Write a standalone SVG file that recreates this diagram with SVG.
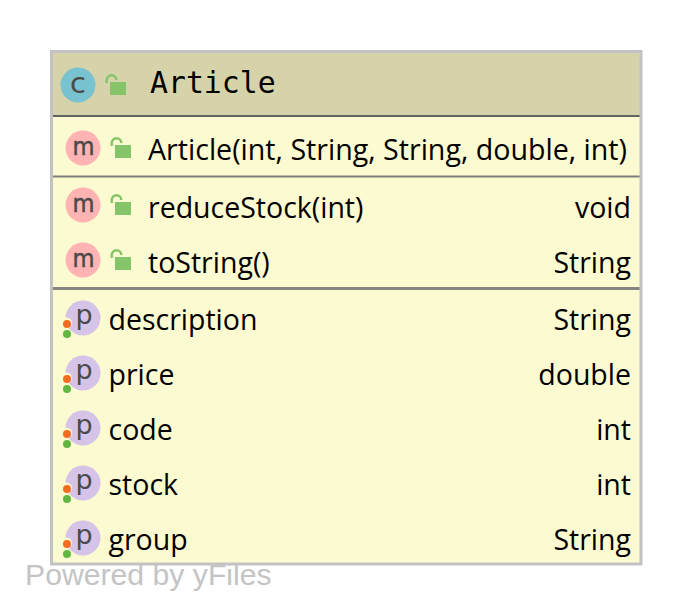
<svg xmlns="http://www.w3.org/2000/svg" width="692" height="615" viewBox="0 0 692 615">
<style>
text{font-family:"Open Sans","Noto Sans","Liberation Sans",sans-serif;font-size:28.500px;fill:#000}
.r{text-anchor:end}
.t{font-family:"DejaVu Sans Mono","Liberation Mono",monospace;font-size:29.800px}
.ic{font-family:"DejaVu Sans",sans-serif;font-size:27px;fill:#4a4a4a;text-anchor:middle}
.im{font-family:"DejaVu Sans",sans-serif;font-size:25px;fill:#4a4a4a;text-anchor:middle;stroke:#4a4a4a;stroke-width:.5px}
.ic2{font-family:"DejaVu Sans",sans-serif;font-size:29px;fill:#4a4a4a;text-anchor:middle}
.wm{font-family:"Liberation Sans",Arial,sans-serif;font-size:30.200px;fill:#c4c4c4}
.m{fill:#ffb3b3}.p{fill:#d5c3e8}.c{fill:#79c2cf}
</style>
<defs>
<g id="lock"><path d="M-3.300 -3V-6a4.800 4.800 0 0 1 9.600 0" fill="none" stroke="#85c468" stroke-width="2.400"/><rect x="0" y="-4" width="16" height="13" fill="#85c468"/></g>
<g id="dots"><circle cx="-0.500" cy="-11" r="5.500" fill="#fcfad1"/><circle cx="0" cy="0" r="4" fill="#f26d21" transform="translate(0 -10)"/><circle cx="0" cy="0" r="4" fill="#62b543"/></g>
</defs>
<g id="article-node">
<rect x="52" y="52" width="589" height="512" fill="#fcfad1"/>
<rect x="52" y="52" width="589" height="64" fill="#d6d3aa"/>
<rect x="52" y="115" width="589" height="2" fill="#626262"/>
<rect x="52" y="175.500" width="589" height="2" fill="#7f7f78"/>
<rect x="52" y="287" width="589" height="3" fill="#868680"/>
<rect x="51.500" y="51.500" width="589.500" height="512.500" fill="none" stroke="#c2c2c2" stroke-width="3"/>
</g>
<g id="title">
<circle cx="78" cy="85" r="17.500" class="c"/><text x="78" y="92.500" class="ic2">c</text>
<use href="#lock" x="110" y="86"/>
<text x="150" y="93" class="t">Article</text>
</g>
<g id="ctor">
<circle cx="83" cy="148" r="17.500" class="m"/><text x="83.500" y="155" class="im" textLength="22" lengthAdjust="spacingAndGlyphs">m</text>
<use href="#lock" x="115" y="149"/>
<text x="148" y="160" textLength="479" lengthAdjust="spacingAndGlyphs">Article(int, String, String, double, int)</text>
</g>
<g id="reduceStock">
<circle cx="83" cy="205" r="17.500" class="m"/><text x="83.500" y="212" class="im" textLength="22" lengthAdjust="spacingAndGlyphs">m</text>
<use href="#lock" x="115" y="206"/>
<text x="148" y="218">reduceStock(int)</text><text x="631" y="218" class="r">void</text>
</g>
<g id="toString">
<circle cx="83" cy="260" r="17.500" class="m"/><text x="83.500" y="267" class="im" textLength="22" lengthAdjust="spacingAndGlyphs">m</text>
<use href="#lock" x="115" y="261"/>
<text x="148" y="273">toString()</text><text x="631" y="273" class="r">String</text>
</g>
<g id="description">
<circle cx="83" cy="318" r="17.500" class="p"/><text x="84" y="324" class="ic">p</text>
<use href="#dots" x="67" y="334"/>
<text x="108.500" y="330">description</text><text x="631" y="330" class="r">String</text>
</g>
<g id="price">
<circle cx="83" cy="373" r="17.500" class="p"/><text x="84" y="379" class="ic">p</text>
<use href="#dots" x="67" y="389"/>
<text x="108.500" y="385">price</text><text x="631" y="385" class="r">double</text>
</g>
<g id="code">
<circle cx="83" cy="428" r="17.500" class="p"/><text x="84" y="434" class="ic">p</text>
<use href="#dots" x="67" y="444"/>
<text x="108.500" y="440">code</text><text x="631" y="440" class="r">int</text>
</g>
<g id="stock">
<circle cx="83" cy="483" r="17.500" class="p"/><text x="84" y="489" class="ic">p</text>
<use href="#dots" x="67" y="499"/>
<text x="108.500" y="495">stock</text><text x="631" y="495" class="r">int</text>
</g>
<g id="group">
<circle cx="83" cy="538" r="17.500" class="p"/><text x="84" y="544" class="ic">p</text>
<use href="#dots" x="67" y="554"/>
<text x="108.500" y="550">group</text><text x="631" y="550" class="r">String</text>
</g>
<g id="connectors"/>
<text x="25" y="585" class="wm">Powered by yFiles</text>
</svg>
